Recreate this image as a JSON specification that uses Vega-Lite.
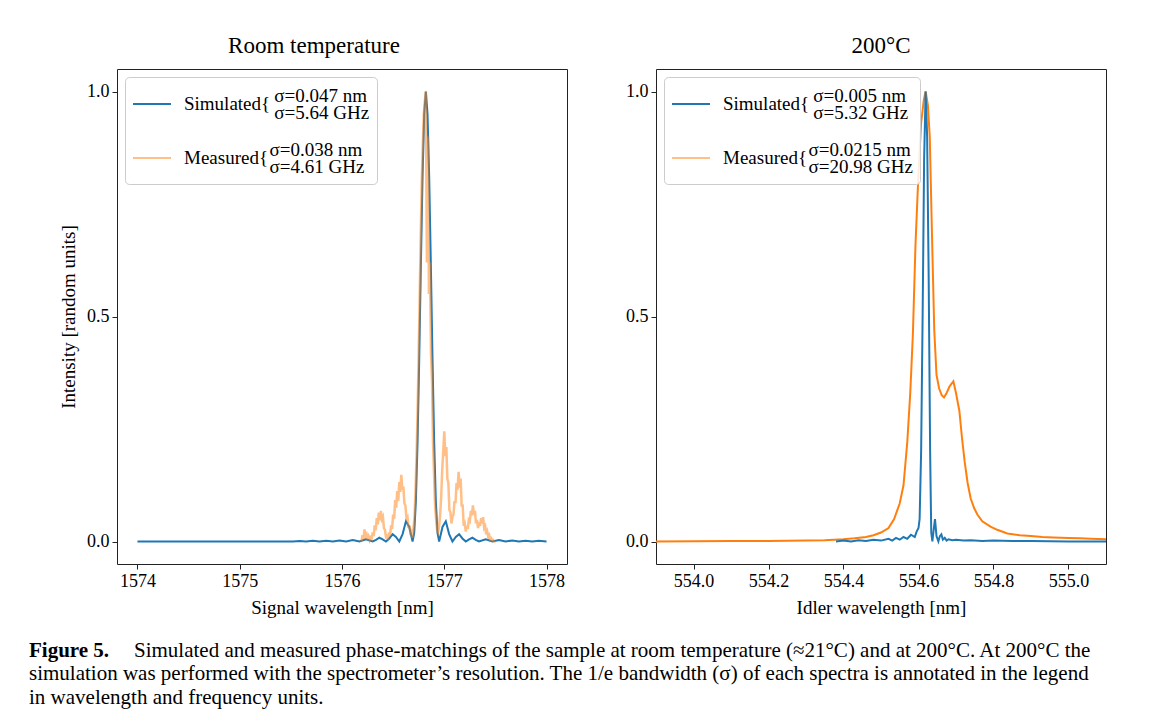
{
  "$schema": "https://vega.github.io/schema/vega-lite/v6.json",
  "background": "white",
  "padding": {"left": 29, "top": 34, "right": 5, "bottom": 5},
  "config": {
    "font": "Liberation Serif",
    "view": {"stroke": "#222222", "strokeWidth": 1},
    "axis": {
      "domain": false, "grid": false, "tickColor": "#222222", "tickSize": 5, "tickWidth": 1,
      "labelFont": "Liberation Serif", "labelFontSize": 18, "labelColor": "black", "labelPadding": 3,
      "titleFont": "Liberation Serif", "titleFontSize": 19, "titleFontWeight": "normal", "titleColor": "black", "titlePadding": 8
    },
    "title": {"font": "Liberation Serif", "fontSize": 23, "fontWeight": "normal", "color": "black", "offset": 11},
    "legend": {
      "orient": "top-left", "offset": 8, "padding": 7, "strokeColor": "#cccccc", "fillColor": "rgba(255,255,255,0.85)",
      "cornerRadius": 4, "symbolType": "stroke", "symbolSize": 1444, "symbolStrokeWidth": 2,
      "labelFont": "Liberation Serif", "labelFontSize": 19, "labelColor": "black", "labelLimit": 0, "labelOffset": 12, "rowPadding": 15
    }
  },
  "title": {
    "text": "Figure 5.",
    "subtitle": [
      "\u200b\u00a0\u00a0\u00a0\u00a0\u00a0\u00a0\u00a0\u00a0\u00a0\u00a0\u00a0\u00a0\u00a0\u00a0\u00a0\u00a0\u00a0\u00a0\u00a0\u00a0Simulated and measured phase-matchings of the sample at room temperature (≈21°C) and at 200°C. At 200°C the",
      "simulation was performed with the spectrometer’s resolution. The 1/e bandwidth (σ) of each spectra is annotated in the legend",
      "in wavelength and frequency units."
    ],
    "orient": "bottom", "anchor": "start", "frame": "bounds", "offset": 22, "dx": -30,
    "font": "Liberation Serif", "fontSize": 21, "fontWeight": "bold", "color": "black",
    "subtitleFont": "Liberation Serif", "subtitleFontSize": 21, "subtitleColor": "black", "subtitleLineHeight": 23.5, "subtitlePadding": -21
  },
  "datasets": {
    "leftSim": [
      {"wl": 1574.0, "i": 0}, {"wl": 1575.0, "i": 0}, {"wl": 1575.52, "i": 0}, {"wl": 1575.585, "i": 0.0011}, {"wl": 1575.65, "i": 0},
      {"wl": 1575.715, "i": 0.0014}, {"wl": 1575.78, "i": 0}, {"wl": 1575.845, "i": 0.0018}, {"wl": 1575.91, "i": 0},
      {"wl": 1575.975, "i": 0.0024}, {"wl": 1576.04, "i": 0}, {"wl": 1576.105, "i": 0.0034}, {"wl": 1576.17, "i": 0},
      {"wl": 1576.235, "i": 0.005}, {"wl": 1576.30, "i": 0}, {"wl": 1576.3325, "i": 0.0036}, {"wl": 1576.365, "i": 0.0083},
      {"wl": 1576.3975, "i": 0.0048}, {"wl": 1576.43, "i": 0}, {"wl": 1576.4625, "i": 0.0067}, {"wl": 1576.495, "i": 0.0162},
      {"wl": 1576.5275, "i": 0.01}, {"wl": 1576.56, "i": 0}, {"wl": 1576.5925, "i": 0.0165}, {"wl": 1576.625, "i": 0.045},
      {"wl": 1576.6575, "i": 0.0324}, {"wl": 1576.69, "i": 0}, {"wl": 1576.70625, "i": 0.0194}, {"wl": 1576.7225, "i": 0.0901},
      {"wl": 1576.73875, "i": 0.2214}, {"wl": 1576.755, "i": 0.4053}, {"wl": 1576.77125, "i": 0.615}, {"wl": 1576.7875, "i": 0.8106},
      {"wl": 1576.80375, "i": 0.9497}, {"wl": 1576.82, "i": 1.0}, {"wl": 1576.83625, "i": 0.9497}, {"wl": 1576.8525, "i": 0.8106},
      {"wl": 1576.86875, "i": 0.615}, {"wl": 1576.885, "i": 0.4053}, {"wl": 1576.90125, "i": 0.2214}, {"wl": 1576.9175, "i": 0.0901},
      {"wl": 1576.93375, "i": 0.0194}, {"wl": 1576.95, "i": 0}, {"wl": 1576.9825, "i": 0.0324}, {"wl": 1577.015, "i": 0.045},
      {"wl": 1577.0475, "i": 0.0165}, {"wl": 1577.08, "i": 0}, {"wl": 1577.1125, "i": 0.01}, {"wl": 1577.145, "i": 0.0162},
      {"wl": 1577.1775, "i": 0.0067}, {"wl": 1577.21, "i": 0}, {"wl": 1577.2425, "i": 0.0048}, {"wl": 1577.275, "i": 0.0083},
      {"wl": 1577.3075, "i": 0.0036}, {"wl": 1577.34, "i": 0}, {"wl": 1577.405, "i": 0.005}, {"wl": 1577.47, "i": 0},
      {"wl": 1577.535, "i": 0.0034}, {"wl": 1577.60, "i": 0}, {"wl": 1577.665, "i": 0.0024}, {"wl": 1577.73, "i": 0},
      {"wl": 1577.795, "i": 0.0018}, {"wl": 1577.86, "i": 0}, {"wl": 1577.925, "i": 0.0014}, {"wl": 1578.0, "i": 0}
    ],
    "leftMeas": [
      {"wl": 1576.19, "i": 0}, {"wl": 1576.20, "i": 0.014}, {"wl": 1576.21, "i": 0.006}, {"wl": 1576.22, "i": 0.027}, {"wl": 1576.23, "i": 0.012},
      {"wl": 1576.24, "i": 0.016}, {"wl": 1576.25, "i": 0.004}, {"wl": 1576.26, "i": 0.011}, {"wl": 1576.27, "i": 0.003}, {"wl": 1576.28, "i": 0.009},
      {"wl": 1576.29, "i": 0.006}, {"wl": 1576.30, "i": 0.02}, {"wl": 1576.31, "i": 0.012}, {"wl": 1576.32, "i": 0.036}, {"wl": 1576.33, "i": 0.025},
      {"wl": 1576.34, "i": 0.052}, {"wl": 1576.35, "i": 0.038}, {"wl": 1576.36, "i": 0.064}, {"wl": 1576.37, "i": 0.047}, {"wl": 1576.38, "i": 0.068},
      {"wl": 1576.39, "i": 0.05}, {"wl": 1576.40, "i": 0.055}, {"wl": 1576.41, "i": 0.03}, {"wl": 1576.42, "i": 0.026}, {"wl": 1576.43, "i": 0.01},
      {"wl": 1576.44, "i": 0.012}, {"wl": 1576.45, "i": 0.004}, {"wl": 1576.46, "i": 0.02}, {"wl": 1576.47, "i": 0.012}, {"wl": 1576.48, "i": 0.036},
      {"wl": 1576.49, "i": 0.028}, {"wl": 1576.50, "i": 0.06}, {"wl": 1576.51, "i": 0.05}, {"wl": 1576.52, "i": 0.092}, {"wl": 1576.53, "i": 0.075},
      {"wl": 1576.54, "i": 0.112}, {"wl": 1576.55, "i": 0.09}, {"wl": 1576.56, "i": 0.132}, {"wl": 1576.57, "i": 0.11}, {"wl": 1576.58, "i": 0.148},
      {"wl": 1576.59, "i": 0.115}, {"wl": 1576.60, "i": 0.122}, {"wl": 1576.61, "i": 0.085}, {"wl": 1576.62, "i": 0.08}, {"wl": 1576.63, "i": 0.052},
      {"wl": 1576.64, "i": 0.055}, {"wl": 1576.65, "i": 0.03}, {"wl": 1576.66, "i": 0.036}, {"wl": 1576.67, "i": 0.014}, {"wl": 1576.68, "i": 0.02},
      {"wl": 1576.69, "i": 0.008}, {"wl": 1576.70, "i": 0.03}, {"wl": 1576.71, "i": 0.06}, {"wl": 1576.72, "i": 0.12}, {"wl": 1576.73, "i": 0.2},
      {"wl": 1576.74, "i": 0.3}, {"wl": 1576.75, "i": 0.42}, {"wl": 1576.76, "i": 0.55}, {"wl": 1576.77, "i": 0.68}, {"wl": 1576.78, "i": 0.8},
      {"wl": 1576.79, "i": 0.88}, {"wl": 1576.80, "i": 0.95}, {"wl": 1576.81, "i": 0.98}, {"wl": 1576.82, "i": 1.0}, {"wl": 1576.83, "i": 0.62},
      {"wl": 1576.84, "i": 0.9}, {"wl": 1576.85, "i": 0.55}, {"wl": 1576.86, "i": 0.62}, {"wl": 1576.87, "i": 0.42}, {"wl": 1576.88, "i": 0.36},
      {"wl": 1576.89, "i": 0.22}, {"wl": 1576.90, "i": 0.15}, {"wl": 1576.91, "i": 0.08}, {"wl": 1576.92, "i": 0.05}, {"wl": 1576.93, "i": 0.025},
      {"wl": 1576.94, "i": 0.02}, {"wl": 1576.95, "i": 0.035}, {"wl": 1576.96, "i": 0.06}, {"wl": 1576.97, "i": 0.1}, {"wl": 1576.98, "i": 0.16},
      {"wl": 1576.99, "i": 0.2}, {"wl": 1577.00, "i": 0.245}, {"wl": 1577.01, "i": 0.19}, {"wl": 1577.02, "i": 0.21}, {"wl": 1577.03, "i": 0.14},
      {"wl": 1577.04, "i": 0.13}, {"wl": 1577.05, "i": 0.07}, {"wl": 1577.06, "i": 0.065}, {"wl": 1577.07, "i": 0.04}, {"wl": 1577.08, "i": 0.055},
      {"wl": 1577.09, "i": 0.06}, {"wl": 1577.10, "i": 0.09}, {"wl": 1577.11, "i": 0.085}, {"wl": 1577.12, "i": 0.13}, {"wl": 1577.13, "i": 0.115},
      {"wl": 1577.14, "i": 0.155}, {"wl": 1577.15, "i": 0.12}, {"wl": 1577.16, "i": 0.14}, {"wl": 1577.17, "i": 0.08}, {"wl": 1577.18, "i": 0.08},
      {"wl": 1577.19, "i": 0.035}, {"wl": 1577.20, "i": 0.04}, {"wl": 1577.21, "i": 0.022}, {"wl": 1577.22, "i": 0.035}, {"wl": 1577.23, "i": 0.028},
      {"wl": 1577.24, "i": 0.048}, {"wl": 1577.25, "i": 0.045}, {"wl": 1577.26, "i": 0.068}, {"wl": 1577.27, "i": 0.058}, {"wl": 1577.28, "i": 0.08},
      {"wl": 1577.29, "i": 0.06}, {"wl": 1577.30, "i": 0.068}, {"wl": 1577.31, "i": 0.04}, {"wl": 1577.32, "i": 0.048}, {"wl": 1577.33, "i": 0.03},
      {"wl": 1577.34, "i": 0.042}, {"wl": 1577.35, "i": 0.035}, {"wl": 1577.36, "i": 0.052}, {"wl": 1577.37, "i": 0.04}, {"wl": 1577.38, "i": 0.054},
      {"wl": 1577.39, "i": 0.03}, {"wl": 1577.40, "i": 0.034}, {"wl": 1577.41, "i": 0.016}, {"wl": 1577.42, "i": 0.022}, {"wl": 1577.43, "i": 0.01},
      {"wl": 1577.44, "i": 0.014}, {"wl": 1577.45, "i": 0.004}, {"wl": 1577.46, "i": 0.007}, {"wl": 1577.47, "i": 0.002}, {"wl": 1577.48, "i": 0.003},
      {"wl": 1577.49, "i": 0}, {"wl": 1577.50, "i": 0}
    ],
    "rightSim": [
      {"wl": 554.38, "i": 0}, {"wl": 554.40, "i": 0.002}, {"wl": 554.42, "i": 0}, {"wl": 554.44, "i": 0.003}, {"wl": 554.46, "i": 0.001},
      {"wl": 554.48, "i": 0.004}, {"wl": 554.50, "i": 0.002}, {"wl": 554.52, "i": 0.006}, {"wl": 554.53, "i": 0.002}, {"wl": 554.54, "i": 0.008},
      {"wl": 554.55, "i": 0.004}, {"wl": 554.56, "i": 0.01}, {"wl": 554.57, "i": 0.006}, {"wl": 554.58, "i": 0.015}, {"wl": 554.59, "i": 0.01},
      {"wl": 554.595, "i": 0.022}, {"wl": 554.60, "i": 0.03}, {"wl": 554.603, "i": 0.05}, {"wl": 554.607, "i": 0.2}, {"wl": 554.611, "i": 0.5},
      {"wl": 554.615, "i": 0.85}, {"wl": 554.619, "i": 1.0}, {"wl": 554.623, "i": 0.9}, {"wl": 554.627, "i": 0.6}, {"wl": 554.631, "i": 0.2},
      {"wl": 554.634, "i": 0.02}, {"wl": 554.637, "i": 0.0}, {"wl": 554.641, "i": 0.03}, {"wl": 554.644, "i": 0.05}, {"wl": 554.648, "i": 0.012},
      {"wl": 554.653, "i": 0.0}, {"wl": 554.657, "i": 0.012}, {"wl": 554.661, "i": 0.016}, {"wl": 554.665, "i": 0.004}, {"wl": 554.67, "i": 0.008},
      {"wl": 554.675, "i": 0.002}, {"wl": 554.68, "i": 0.005}, {"wl": 554.69, "i": 0.003}, {"wl": 554.70, "i": 0.004}, {"wl": 554.72, "i": 0.002},
      {"wl": 554.74, "i": 0.003}, {"wl": 554.77, "i": 0.001}, {"wl": 554.80, "i": 0.002}, {"wl": 554.85, "i": 0.001}, {"wl": 554.90, "i": 0.001},
      {"wl": 555.0, "i": 0}, {"wl": 555.1, "i": 0}
    ],
    "rightMeas": [
      {"wl": 553.9, "i": 0}, {"wl": 554.0, "i": 0.0005}, {"wl": 554.1, "i": 0.001}, {"wl": 554.2, "i": 0.001}, {"wl": 554.3, "i": 0.002},
      {"wl": 554.35, "i": 0.003}, {"wl": 554.40, "i": 0.005}, {"wl": 554.43, "i": 0.007}, {"wl": 554.46, "i": 0.01}, {"wl": 554.48, "i": 0.014},
      {"wl": 554.50, "i": 0.02}, {"wl": 554.52, "i": 0.03}, {"wl": 554.535, "i": 0.05}, {"wl": 554.55, "i": 0.085}, {"wl": 554.56, "i": 0.125},
      {"wl": 554.57, "i": 0.22}, {"wl": 554.578, "i": 0.33}, {"wl": 554.585, "i": 0.46}, {"wl": 554.592, "i": 0.66}, {"wl": 554.60, "i": 0.82},
      {"wl": 554.607, "i": 0.93}, {"wl": 554.614, "i": 0.98}, {"wl": 554.619, "i": 1.0}, {"wl": 554.625, "i": 0.97}, {"wl": 554.63, "i": 0.9},
      {"wl": 554.636, "i": 0.68}, {"wl": 554.642, "i": 0.47}, {"wl": 554.648, "i": 0.37}, {"wl": 554.655, "i": 0.34}, {"wl": 554.662, "i": 0.325},
      {"wl": 554.668, "i": 0.32}, {"wl": 554.675, "i": 0.33}, {"wl": 554.683, "i": 0.345}, {"wl": 554.693, "i": 0.356}, {"wl": 554.70, "i": 0.33},
      {"wl": 554.709, "i": 0.29}, {"wl": 554.716, "i": 0.23}, {"wl": 554.723, "i": 0.178}, {"wl": 554.731, "i": 0.13}, {"wl": 554.739, "i": 0.096},
      {"wl": 554.748, "i": 0.075}, {"wl": 554.757, "i": 0.06}, {"wl": 554.77, "i": 0.045}, {"wl": 554.792, "i": 0.033}, {"wl": 554.81, "i": 0.026},
      {"wl": 554.837, "i": 0.018}, {"wl": 554.87, "i": 0.014}, {"wl": 554.90, "i": 0.012}, {"wl": 554.93, "i": 0.01}, {"wl": 554.96, "i": 0.009},
      {"wl": 555.0, "i": 0.008}, {"wl": 555.03, "i": 0.007}, {"wl": 555.06, "i": 0.006}, {"wl": 555.1, "i": 0.005}
    ]
  },
  "hconcat": [
    {
      "width": 450, "height": 495,
      "title": {"text": "Room temperature", "dx": -28},
      "layer": [
        {
          "data": {"name": "leftSim"},
          "mark": {"type": "line", "strokeWidth": 2, "clip": true},
          "encoding": {
            "x": {"field": "wl", "type": "quantitative", "scale": {"domain": [1573.8, 1578.2], "nice": false, "zero": false},
                  "axis": {"values": [1574, 1575, 1576, 1577, 1578], "format": "d", "title": "Signal wavelength [nm]"}},
            "y": {"field": "i", "type": "quantitative", "scale": {"domain": [-0.05, 1.05], "nice": false, "zero": false},
                  "axis": {"values": [0, 0.5, 1], "format": ".1f", "title": "Intensity [random units]"}},
            "color": {"datum": "Simulated", "type": "nominal",
                      "scale": {"domain": ["Simulated", "Measured"], "range": ["#1f77b4", "#ffbf86"]},
                      "legend": {"title": null,
                        "labelExpr": "datum.label == 'Simulated' ? ['\u200b\u00a0\u00a0\u00a0\u00a0\u00a0\u00a0\u00a0\u00a0\u00a0\u00a0\u00a0\u00a0\u00a0\u00a0\u00a0\u00a0\u00a0\u00a0\u00a0σ=0.047 nm', 'Simulated{', '\u200b\u00a0\u00a0\u00a0\u00a0\u00a0\u00a0\u00a0\u00a0\u00a0\u00a0\u00a0\u00a0\u00a0\u00a0\u00a0\u00a0\u00a0\u00a0\u00a0σ=5.64 GHz'] : ['\u200b\u00a0\u00a0\u00a0\u00a0\u00a0\u00a0\u00a0\u00a0\u00a0\u00a0\u00a0\u00a0\u00a0\u00a0\u00a0\u00a0\u00a0\u00a0σ=0.038 nm', 'Measured{', '\u200b\u00a0\u00a0\u00a0\u00a0\u00a0\u00a0\u00a0\u00a0\u00a0\u00a0\u00a0\u00a0\u00a0\u00a0\u00a0\u00a0\u00a0\u00a0σ=4.61 GHz']",
                        "encode": {"labels": {"update": {"lineHeight": {"value": 8.5}, "dy": {"value": -8.5}}}}}}
          }
        },
        {
          "data": {"name": "leftMeas"},
          "mark": {"type": "line", "strokeWidth": 2.5, "clip": true, "color": "#ff7f0e", "opacity": 0.5},
          "encoding": {
            "x": {"field": "wl", "type": "quantitative"},
            "y": {"field": "i", "type": "quantitative"}
          }
        }
      ]
    },
    {
      "width": 450, "height": 495,
      "title": {"text": "200°C"},
      "layer": [
        {
          "data": {"name": "rightMeas"},
          "mark": {"type": "line", "strokeWidth": 2, "clip": true, "color": "#ff7f0e"},
          "encoding": {
            "x": {"field": "wl", "type": "quantitative", "scale": {"domain": [553.9, 555.1], "nice": false, "zero": false},
                  "axis": {"values": [554.0, 554.2, 554.4, 554.6, 554.8, 555.0], "format": ".1f", "title": "Idler wavelength [nm]"}},
            "y": {"field": "i", "type": "quantitative", "scale": {"domain": [-0.05, 1.05], "nice": false, "zero": false},
                  "axis": {"values": [0, 0.5, 1], "format": ".1f", "title": null}}
          }
        },
        {
          "data": {"name": "rightSim"},
          "mark": {"type": "line", "strokeWidth": 2, "clip": true},
          "encoding": {
            "x": {"field": "wl", "type": "quantitative"},
            "y": {"field": "i", "type": "quantitative"},
            "color": {"datum": "Simulated", "type": "nominal",
                      "scale": {"domain": ["Simulated", "Measured"], "range": ["#1f77b4", "#ffbf86"]},
                      "legend": {"title": null,
                        "labelExpr": "datum.label == 'Simulated' ? ['\u200b\u00a0\u00a0\u00a0\u00a0\u00a0\u00a0\u00a0\u00a0\u00a0\u00a0\u00a0\u00a0\u00a0\u00a0\u00a0\u00a0\u00a0\u00a0\u00a0σ=0.005 nm', 'Simulated{', '\u200b\u00a0\u00a0\u00a0\u00a0\u00a0\u00a0\u00a0\u00a0\u00a0\u00a0\u00a0\u00a0\u00a0\u00a0\u00a0\u00a0\u00a0\u00a0\u00a0σ=5.32 GHz'] : ['\u200b\u00a0\u00a0\u00a0\u00a0\u00a0\u00a0\u00a0\u00a0\u00a0\u00a0\u00a0\u00a0\u00a0\u00a0\u00a0\u00a0\u00a0\u00a0σ=0.0215 nm', 'Measured{', '\u200b\u00a0\u00a0\u00a0\u00a0\u00a0\u00a0\u00a0\u00a0\u00a0\u00a0\u00a0\u00a0\u00a0\u00a0\u00a0\u00a0\u00a0\u00a0σ=20.98 GHz']",
                        "encode": {"labels": {"update": {"lineHeight": {"value": 8.5}, "dy": {"value": -8.5}}}}}}
          }
        }
      ]
    }
  ],
  "spacing": 57,
  "resolve": {"scale": {"color": "independent"}, "legend": {"color": "independent"}}
}
